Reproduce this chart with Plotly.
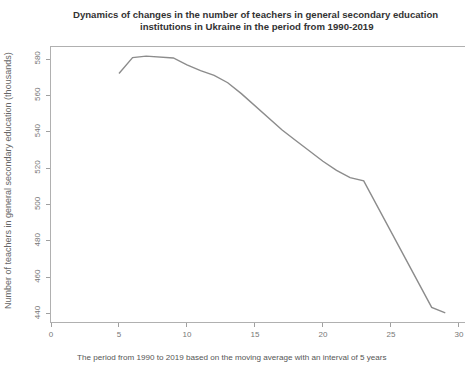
import plotly.graph_objects as go

x_vals = [5, 6, 7, 8, 9, 10, 11, 12, 13, 14, 15, 16, 17, 18, 19, 20, 21, 22, 23, 24, 25, 26, 27, 28, 29]
teachers = [572.1, 580.8, 581.6, 581.2, 580.6, 576.8, 573.6, 571.0, 567.0, 561.0, 554.3, 547.5, 541.0, 535.2, 529.4, 523.8, 518.8, 514.8, 513.0, 499.0, 485.0, 471.2, 457.3, 443.5, 440.5]
x_ticks = [0, 5, 10, 15, 20, 25, 30]
y_ticks = [440, 460, 480, 500, 520, 540, 560, 580]

title_lines = ["Dynamics of changes in the number of teachers in general secondary education",
               "institutions in Ukraine in the period from 1990-2019"]
x_title = "The period from 1990 to 2019 based on the moving average with an interval of 5 years"
y_title = "Number of teachers in general secondary education (thousands)"

FONT = "Liberation Sans, Arial, sans-serif"
W, H = 465, 367
ML, MR, MT, MB = 51, 0, 47, 45

fig = go.Figure()
fig.add_trace(go.Scatter(x=x_vals, y=teachers, mode="lines",
                         line=dict(color="#8c8c8c", width=1.4), showlegend=False))

pw = W - ML - MR
ph = H - MT - MB


def px_ann(text, px, py, size, color, angle=0):
    return dict(text=text, xref="paper", yref="paper",
                x=(px - ML) / pw, y=(H - MB - py) / ph,
                xanchor="center", yanchor="middle", showarrow=False,
                textangle=angle, font=dict(size=size, color=color))


fig.update_layout(
    width=W, height=H,
    margin=dict(l=ML, r=MR, t=MT, b=MB),
    paper_bgcolor="white", plot_bgcolor="white",
    font=dict(family=FONT, size=8, color="#555"),
    xaxis=dict(range=[0, 30.45], tickvals=x_ticks, ticktext=[str(v) for v in x_ticks],
               showgrid=False, zeroline=False, showline=True, mirror=True,
               linecolor="#b0b0b0", linewidth=1.2, ticks="outside", ticklen=4,
               tickcolor="#a0a0a0", tickfont=dict(size=8, color="#777")),
    yaxis=dict(range=[435.45, 586.64], tickvals=y_ticks, ticktext=[str(v) for v in y_ticks],
               showgrid=False, zeroline=False, showline=True, mirror=False,
               linecolor="#b0b0b0", linewidth=1.2, ticks="outside", ticklen=4,
               tickcolor="#a0a0a0", tickangle=-90, ticklabelstandoff=3,
               tickfont=dict(size=8, color="#777")),
    annotations=[
        px_ann("<b>" + title_lines[0] + "</b>", 255, 15, 9.6, "#333"),
        px_ann("<b>" + title_lines[1] + "</b>", 257, 27, 9.6, "#333"),
        px_ann(x_title, 232, 357, 8.1, "#555"),
        px_ann(y_title, 8, 181, 9.0, "#666", angle=-90),
    ],
)

fig.write_html("out.html", config={"displayModeBar": False},
               post_script="document.body.style.margin='0';document.body.style.padding='0';")
